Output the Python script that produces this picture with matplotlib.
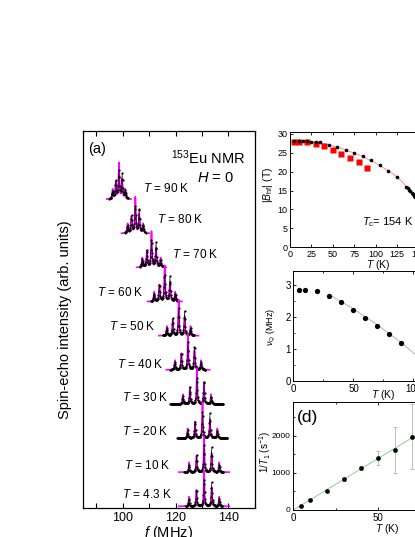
import numpy as np
import matplotlib
matplotlib.use("Agg")
import matplotlib.pyplot as plt

plt.rcParams["font.family"] = ["Liberation Sans", "DejaVu Sans"]
plt.rcParams["mathtext.fontset"] = "custom"
plt.rcParams["mathtext.rm"] = "Liberation Sans"
plt.rcParams["mathtext.it"] = "Liberation Sans:italic"

# (a) 153Eu NMR spectra, top (90 K) to bottom (4.3 K)
TEMPS = ["90", "80", "70", "60", "50", "40", "30", "20", "10", "4.3"]
OFFSETS = [9, 8, 7, 6, 5, 4, 3, 2, 1, 0]
F0 = [98.6, 104.8, 110.9, 115.9, 121.2, 124.7, 128.1, 130.2, 130.8, 130.8]   # MHz
NUQ_LINES = [1.20, 1.47, 1.74, 1.99, 2.24, 2.47, 2.67, 2.81, 2.85, 2.87]    # line spacing
LINE_WIDTH = [0.25, 0.25, 0.25, 0.25, 0.22, 0.22, 0.2, 0.2, 0.2, 0.2]
FIT_SPAN = [4.6, 5.2, 5.6, 6.5, 7.5, 8.2, 9.0, 9.3, 9.5, 9.6]
DATA_SPAN = [3.6, 4.0, 4.4, 5.2, 6.0, 6.6, 10.0, 9.5, 7.5, 7.0]
LINE_M = [-2, -1, 0, 1, 2]
FIT_AMPS = [0.28, 0.48, 1.05, 0.55, 0.28]
DATA_AMPS = [0.22, 0.5, 0.8, 0.72, 0.22]
LABEL_POS = [(107.6, 9.33), (112.9, 8.42), (118.6, 7.37), (90.2, 6.26), (94.7, 5.26),
             (97.7, 4.15), (99.6, 3.19), (99.6, 2.19), (100.4, 1.20), (99.6, 0.35)]

# (b) hyperfine field vs T
B_T = [5, 10, 15, 20, 25, 30, 35, 45, 55, 65, 75, 85, 95, 105, 115, 125,
       136, 137.5, 139, 140.5, 142, 143.5, 145, 146.5]
B_VAL = [28.2, 28.2, 28.1, 28.1, 28.0, 27.9, 27.8, 27.2, 26.6, 25.8, 25.0, 24.1, 23.0,
         21.8, 20.2, 18.7, 15.9, 15.6, 15.2, 14.8, 14.4, 14.0, 13.6, 13.2]
NMR_T = [4.3, 10, 20, 30, 40, 50, 60, 70, 80, 90]
NMR_B = [28.0, 28.0, 27.8, 27.4, 26.7, 25.7, 24.7, 23.6, 22.5, 21.1]
BFIT_T = [0, 20, 40, 60, 80, 100, 120, 130, 140, 146, 150, 154]
BFIT_B = [28.3, 28.1, 27.4, 26.2, 24.5, 22.3, 19.5, 17.6, 14.9, 13.0, 10.5, 0.0]

# (c) quadrupole frequency
NUQ_T = [4.3, 10, 20, 30, 40, 50, 60, 70, 80, 90]
NUQ_V = [2.87, 2.85, 2.81, 2.67, 2.47, 2.24, 1.99, 1.74, 1.47, 1.20]
NUQFIT_T = [30, 40, 50, 60, 70, 80, 90, 100, 110]
NUQFIT_V = [2.70, 2.49, 2.26, 2.01, 1.76, 1.48, 1.20, 0.88, 0.55]

# (d) relaxation rate
T1_T = [4.3, 10, 20, 30, 40, 50, 60, 70]
T1_R = [107, 270, 520, 825, 1120, 1405, 1610, 1970]
T1_ERR = [20, 25, 30, 40, 50, 190, 620, 870]
T1FIT_T = [0, 100]
T1FIT_R = [0, 2760]

MAGENTA = "#FF00FF"


def lines(f, f0, nq, g, amps):
    y = np.zeros_like(f)
    for m, a in zip(LINE_M, amps):
        y += a * g**2 / ((f - f0 - m * nq)**2 + g**2)
    return y


fig = plt.figure(figsize=(4.15, 5.37), dpi=100)

# ---- (a) ----
axA = fig.add_axes([0.200, 0.054, 0.414, 0.702])
for k, lab in enumerate(TEMPS):
    f0, nq, g, base = F0[k], NUQ_LINES[k], LINE_WIDTH[k], OFFSETS[k]
    ff = np.linspace(f0 - FIT_SPAN[k], f0 + FIT_SPAN[k], 2000)
    axA.plot(ff, base + lines(ff, f0, nq, g * 0.8, FIT_AMPS), color=MAGENTA, lw=1.2)
    fd = np.arange(f0 - DATA_SPAN[k], f0 + DATA_SPAN[k], 0.15)
    yd = base + lines(fd, f0, nq, g, DATA_AMPS)
    axA.plot(fd, yd, color="black", lw=0.35)
    axA.plot(fd, yd, "k.", ms=1.2)
    axA.text(LABEL_POS[k][0], LABEL_POS[k][1], r"$T$ = " + lab + " K",
             fontsize=8.5, ha="left", va="center")

axA.set_xlim(85, 150)
axA.set_ylim(-0.05, 11.0)
axA.set_xticks([90, 100, 110, 120, 130, 140, 150])
axA.set_xticklabels(["", "100", "", "120", "", "140", ""])
axA.set_yticks([])
axA.tick_params(axis="x", direction="in", top=True, length=3.5, width=0.8, labelsize=9, pad=3)
for s in axA.spines.values():
    s.set_linewidth(0.9)
axA.set_xlabel(r"$f$ (MHz)", fontsize=10.5, labelpad=0)
axA.set_ylabel("Spin-echo intensity (arb. units)", fontsize=10.5, labelpad=8)
axA.text(0.03, 0.97, "(a)", transform=axA.transAxes, fontsize=10.5, ha="left", va="top")
axA.text(0.51, 0.93, r"$^{153}$Eu NMR", transform=axA.transAxes, fontsize=10.5,
         ha="left", va="center")
axA.text(0.665, 0.875, r"$H$ = 0", transform=axA.transAxes, fontsize=10.5,
         ha="left", va="center")

# ---- (b) ----
axB = fig.add_axes([0.699, 0.540, 0.371, 0.214])
axB.plot(BFIT_T, BFIT_B, color="#FF8C8C", lw=0.7, zorder=1)
axB.plot(NMR_T, NMR_B, "s", color="#FF0000", ms=3.8, mec="none", zorder=2)
axB.plot(B_T, B_VAL, "o", color="black", ms=2.6, mec="none", zorder=3)
axB.set_xlim(0, 180)
axB.set_ylim(0, 30.5)
axB.set_xticks([0, 25, 50, 75, 100, 125, 150, 175])
axB.set_yticks([0, 5, 10, 15, 20, 25, 30])
axB.tick_params(direction="in", top=True, right=True, length=2.5, width=0.6,
                labelsize=6.5, pad=2)
axB.text(0.47, 0.22, r"$T_{\rm c}$= 154 K", transform=axB.transAxes, fontsize=8,
         ha="left", va="center")
fig.text(268 / 415, 1 - 185 / 537, r"$|B_{\rm hf}|$ (T)", rotation=90, fontsize=7.5,
         ha="center", va="center")
fig.text(378 / 415, 1 - 265.5 / 537, r"$T$ (K)", fontsize=7.5, ha="center", va="center")

# ---- (c) ----
axC = fig.add_axes([0.707, 0.2905, 0.434, 0.2048])
axC.plot(NUQFIT_T, NUQFIT_V, color="#A8A8A8", lw=0.6, zorder=1)
axC.plot(NUQ_T, NUQ_V, "o", color="black", ms=3.8, mec="none", zorder=2)
axC.set_xlim(0, 150)
axC.set_ylim(0, 3.45)
axC.set_xticks([0, 50, 100, 150])
axC.set_xticks([25, 75, 125], minor=True)
axC.set_yticks([0, 1, 2, 3])
axC.set_yticks([0.5, 1.5, 2.5], minor=True)
axC.tick_params(which="both", direction="in", top=True, right=True, width=0.6,
                labelsize=7, pad=2)
axC.tick_params(which="major", length=2.5)
axC.tick_params(which="minor", length=1.5)
fig.text(271 / 415, 1 - 327 / 537, r"$\nu_{\rm Q}$ (MHz)", rotation=90, fontsize=6.5,
         ha="center", va="center")
fig.text(383 / 415, 1 - 395 / 537, r"$T$ (K)", fontsize=7.5, ha="center", va="center")

# ---- (d) ----
axD = fig.add_axes([0.707, 0.0503, 0.407, 0.201])
axD.plot(T1FIT_T, T1FIT_R, color="#8CD08C", lw=0.7, zorder=1)
axD.errorbar(T1_T, T1_R, yerr=T1_ERR, fmt="o", color="black", ms=3.4, mec="none",
             ecolor="#B4B4B4", elinewidth=0.6, capsize=1.5, capthick=0.6, zorder=2)
axD.set_xlim(0, 100)
axD.set_ylim(0, 2900)
axD.set_xticks([0, 50, 100])
axD.set_xticks([25, 75], minor=True)
axD.set_yticks([0, 1000, 2000])
axD.set_yticks([500, 1500, 2500], minor=True)
axD.tick_params(which="both", direction="in", top=True, right=True, width=0.6, pad=2)
axD.tick_params(which="major", length=2.5)
axD.tick_params(which="minor", length=1.5)
axD.tick_params(axis="x", labelsize=7)
axD.tick_params(axis="y", labelsize=6)
axD.text(0.02, 0.93, "(d)", transform=axD.transAxes, fontsize=12.5, ha="left", va="top")
fig.text(265 / 415, 1 - 452 / 537, r"1/$T_1$ (s$^{-1}$)", rotation=90, fontsize=7,
         ha="center", va="center")
fig.text(387 / 415, 1 - 529 / 537, r"$T$ (K)", fontsize=7.5, ha="center", va="center")

for ax in (axB, axC, axD):
    for s in ax.spines.values():
        s.set_linewidth(0.7)

fig.savefig("out.png", dpi=100)
